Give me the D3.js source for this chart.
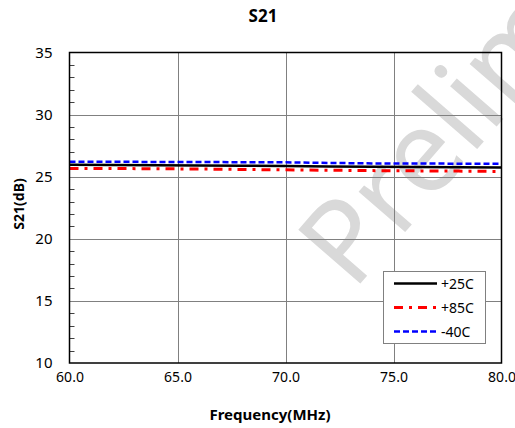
<!DOCTYPE html>
<html>
<head>
<meta charset="utf-8">
<script src="https://cdn.jsdelivr.net/npm/d3@7"></script>
<style>
  html, body { margin: 0; padding: 0; background: #fff; }
  svg { display: block; }
  text { font-family: "Noto Sans", "DejaVu Sans", sans-serif; }
</style>
</head>
<body>
<svg id="chart" width="515" height="428"></svg>
<script>
// S21 gain versus frequency at three temperatures
const freqMHz = [60, 62, 64, 66, 68, 70, 72, 74, 76, 78, 80];
const s21Plus25 = [25.96, 25.94, 25.92, 25.90, 25.88, 25.86, 25.83, 25.80, 25.78, 25.76, 25.75];
const s21Plus85 = [25.67, 25.66, 25.64, 25.62, 25.58, 25.55, 25.52, 25.49, 25.47, 25.45, 25.42];
const s21Minus40 = [26.21, 26.20, 26.19, 26.18, 26.17, 26.16, 26.11, 26.07, 26.06, 26.05, 26.05];
const seriesNames = ["+25C", "+85C", "-40C"];
const xTickValues = [60, 65, 70, 75, 80];
const yTickValues = [10, 15, 20, 25, 30, 35];

const series = [
  { name: seriesNames[0], values: s21Plus25, color: "#000000", dash: null, width: 2.5 },
  { name: seriesNames[1], values: s21Plus85, color: "#ff0000", dash: "9,6,3,6", width: 3 },
  { name: seriesNames[2], values: s21Minus40, color: "#0000ff", dash: "6,3", width: 2.5 }
];

const svg = d3.select("#chart");
const plot = { left: 69.5, right: 501.5, top: 52.5, bottom: 363 };

const x = d3.scaleLinear().domain([60, 80]).range([plot.left, plot.right]);
const y = d3.scaleLinear().domain([10, 35]).range([plot.bottom, plot.top]);

// watermark behind the chart
svg.append("text")
  .attr("transform", "translate(353,292) rotate(-49)")
  .attr("font-family", "'Liberation Sans', Arial, sans-serif")
  .attr("font-size", 115)
  .attr("fill", "#d9d9d9")
  .text("Preliminary");

// grid
const grid = svg.append("g").attr("stroke", "#808080").attr("stroke-width", 1);
grid.selectAll("line.h")
  .data(yTickValues.filter(v => v > 10 && v < 35))
  .join("line")
  .attr("class", "h")
  .attr("x1", plot.left).attr("x2", plot.right)
  .attr("y1", d => Math.round(y(d)) + 0.5).attr("y2", d => Math.round(y(d)) + 0.5);
grid.selectAll("line.v")
  .data(xTickValues.filter(v => v > 60 && v < 80))
  .join("line")
  .attr("class", "v")
  .attr("y1", plot.top).attr("y2", plot.bottom)
  .attr("x1", d => Math.round(x(d)) + 0.5).attr("x2", d => Math.round(x(d)) + 0.5);

// minor ticks on the left axis, pointing inward
const minorY = d3.range(11, 35).filter(v => v % 5 !== 0);
svg.append("g").attr("stroke", "#404040").attr("stroke-width", 1)
  .selectAll("line")
  .data(minorY)
  .join("line")
  .attr("x1", plot.left).attr("x2", plot.left + 5)
  .attr("y1", d => Math.round(y(d)) + 0.5).attr("y2", d => Math.round(y(d)) + 0.5);

// axes (labels only, frame drawn separately)
const xAxis = d3.axisBottom(x).tickValues(xTickValues).tickSize(0).tickPadding(9)
  .tickFormat(d3.format(".1f"));
const gx = svg.append("g").attr("transform", `translate(0,${plot.bottom})`).call(xAxis);
gx.select(".domain").remove();
gx.selectAll("text").attr("font-size", 14).attr("fill", "#000")
  .attr("font-family", "'Noto Sans', sans-serif");

const yAxis = d3.axisLeft(y).tickValues(yTickValues).tickSize(0).tickPadding(17);
const gy = svg.append("g").attr("transform", `translate(${plot.left},0)`).call(yAxis);
gy.select(".domain").remove();
gy.selectAll("text").attr("font-size", 15).attr("fill", "#000")
  .attr("font-family", "'Noto Sans', sans-serif");

// data lines
const line = d3.line()
  .x((d, i) => x(freqMHz[i]))
  .y(d => y(d));

svg.append("g").selectAll("path")
  .data([series[0], series[1], series[2]])
  .join("path")
  .attr("d", d => line(d.values))
  .attr("fill", "none")
  .attr("stroke", d => d.color)
  .attr("stroke-width", d => d.width)
  .attr("stroke-dasharray", d => d.dash);

// plot frame
svg.append("rect")
  .attr("x", plot.left).attr("y", plot.top)
  .attr("width", plot.right - plot.left).attr("height", plot.bottom - plot.top)
  .attr("fill", "none").attr("stroke", "#000").attr("stroke-width", 1.5);

// legend
const legend = svg.append("g").attr("transform", "translate(383,271)");
legend.append("rect")
  .attr("x", 0.5).attr("y", 0.5).attr("width", 102).attr("height", 72)
  .attr("fill", "#fff").attr("stroke", "#808080").attr("stroke-width", 1);
const legendRows = legend.selectAll("g.row")
  .data(series)
  .join("g")
  .attr("class", "row")
  .attr("transform", (d, i) => `translate(0,${12.5 + i * 24})`);
legendRows.append("line")
  .attr("x1", 11).attr("x2", 54).attr("y1", 0).attr("y2", 0)
  .attr("stroke", d => d.color)
  .attr("stroke-width", d => d.width)
  .attr("stroke-dasharray", d => d.dash);
legendRows.append("text")
  .attr("x", 58).attr("y", 5)
  .attr("font-size", 14)
  .text(d => d.name);

// titles
svg.append("text")
  .attr("x", 263).attr("y", 22)
  .attr("text-anchor", "middle")
  .attr("font-size", 17).attr("font-weight", "bold")
  .text("S21");

svg.append("text")
  .attr("x", 270).attr("y", 420)
  .attr("text-anchor", "middle")
  .attr("font-size", 15).attr("font-weight", "bold")
  .text("Frequency(MHz)");

svg.append("text")
  .attr("transform", "translate(24,204) rotate(-90)")
  .attr("text-anchor", "middle")
  .attr("font-size", 14).attr("font-weight", "bold")
  .text("S21(dB)");
</script>
</body>
</html>
